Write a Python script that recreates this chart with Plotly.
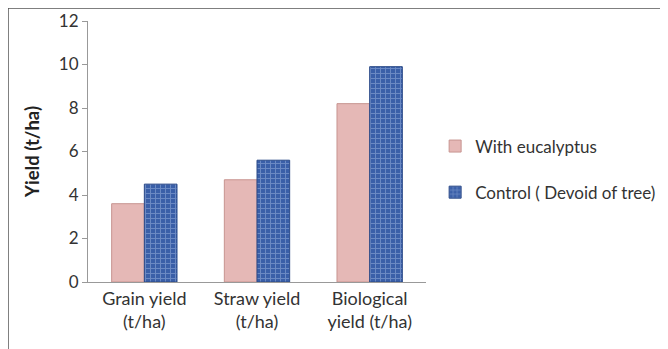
import plotly.graph_objects as go

categories = ["Grain yield<br>(t/ha)", "Straw yield<br>(t/ha)", "Biological<br>yield (t/ha)"]
with_eucalyptus = [3.6, 4.7, 8.2]
control = [4.5, 5.6, 9.9]
y_ticks = [0, 2, 4, 6, 8, 10, 12]

font_family = "Lato, Open Sans, sans-serif"

fig = go.Figure()
fig.add_trace(go.Bar(
    x=categories, y=with_eucalyptus, name="With eucalyptus", legendgroup="a",
    marker=dict(color="#E5B8B6", line=dict(color="#C79490", width=1)),
))
fig.add_trace(go.Bar(
    x=categories, y=control, name="Control ( Devoid of tree)", legendgroup="b",
    marker=dict(color="#3A5FA8", line=dict(color="#2B4A88", width=1),
                pattern=dict(shape="+", fgcolor="#9DB5E0", bgcolor="#3A5FA8", size=5, solidity=0.35)),
))

fig.update_layout(
    width=668, height=349,
    margin=dict(l=80, r=250, t=13, b=75, autoexpand=False),
    paper_bgcolor="white", plot_bgcolor="white",
    barmode="group", bargap=0.42, bargroupgap=0.0,
    font=dict(family=font_family, size=18, color="#333"),
    showlegend=True,
    legend=dict(x=1.027, y=0.431, xanchor="left", yanchor="middle",
                font=dict(size=17, color="#333"), tracegroupgap=21,
                itemwidth=30, bgcolor="rgba(0,0,0,0)"),
    xaxis=dict(showline=True, linecolor="#999", linewidth=1, ticks="outside",
               tickson="boundaries", ticklen=20, tickcolor="rgba(0,0,0,0)", automargin=False,
               tickfont=dict(size=18, color="#333"), showgrid=False),
    yaxis=dict(range=[0, 12], tickvals=y_ticks, showline=True, linecolor="#999",
               linewidth=1, ticks="outside", ticklen=5, tickcolor="#999",
               showgrid=False, zeroline=False, automargin=False,
               ticksuffix="\u00a0",
               tickfont=dict(size=17, color="#333"),
               title=dict(text="<b>Yield (t/ha)</b>", font=dict(size=18.5, color="#222"), standoff=14)),
    shapes=[dict(type="rect", xref="paper", yref="paper",
                 x0=-0.2367, x1=1.9, y0=-0.6, y1=1.0498,
                 line=dict(color="#555", width=1.5), fillcolor="rgba(0,0,0,0)", layer="below")],
)

fig.write_html("out.html")
